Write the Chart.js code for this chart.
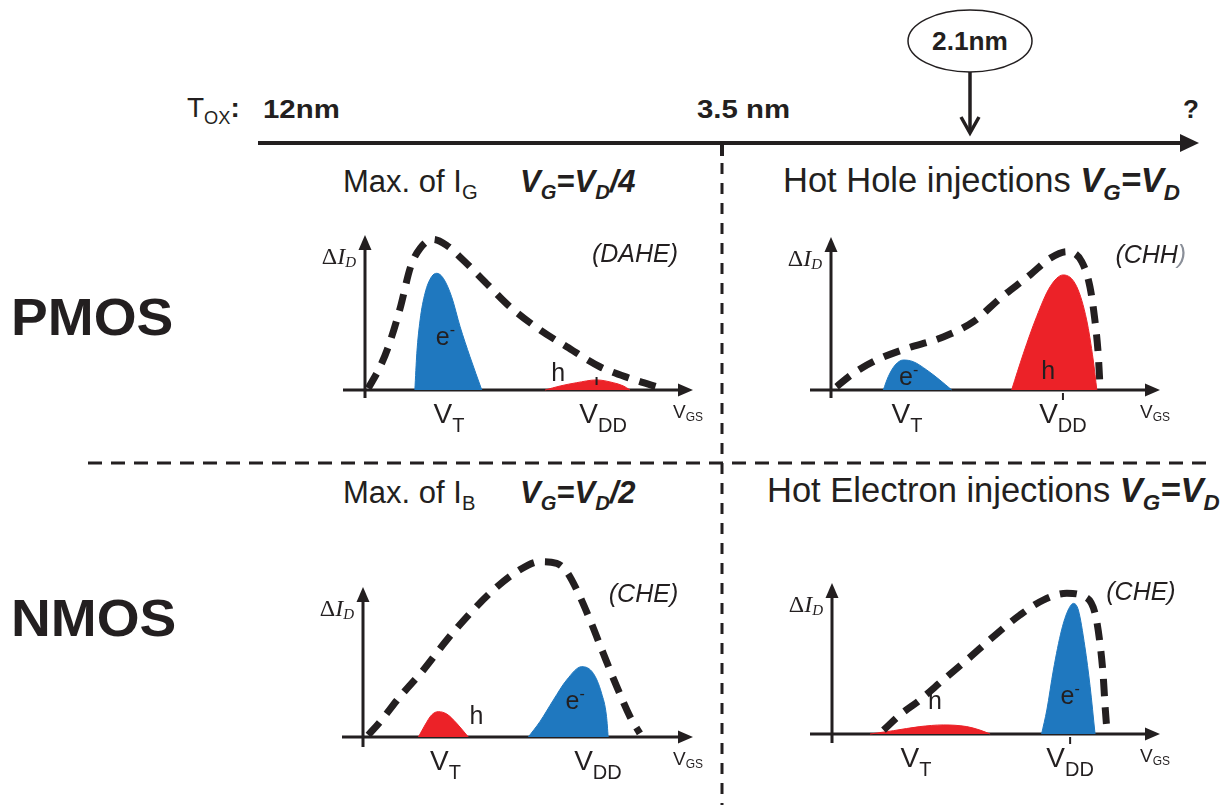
<!DOCTYPE html>
<html>
<head>
<meta charset="utf-8">
<script src="https://cdn.jsdelivr.net/npm/chart.js@4.4.1/dist/chart.umd.min.js"></script>
<style>
  body { margin: 0; background: #fff; }
  #page { position: relative; width: 1225px; height: 805px; overflow: hidden; background: #fff; }
  .t { position: absolute; white-space: nowrap; line-height: 1; font-family: 'Liberation Sans', Arial, sans-serif; color: #231f20; }
  .sub { font-size: 0.65em; vertical-align: -0.36em; line-height: 1; }
  .bi { font-weight: bold; font-style: italic; }
  .b { font-weight: bold; }
  canvas { position: absolute; }
  svg { position: absolute; left: 0; top: 0; }
</style>
</head>
<body>
<div id="page">
  <svg width="1225" height="805">
    <g stroke="#231f20" fill="none">
      <line x1="258" y1="143" x2="1184" y2="143" stroke-width="4"/>
      <line x1="722" y1="141" x2="722" y2="156" stroke-width="4"/>
      <ellipse cx="970" cy="41" rx="62" ry="31" stroke-width="1.5"/>
      <line x1="970" y1="72" x2="970" y2="132" stroke-width="3.5"/>
      <polyline points="961,117 970,133 979,117" stroke-width="3.5"/>
      <line x1="722" y1="163" x2="722" y2="805" stroke-width="3" stroke-dasharray="11 9"/>
      <line x1="88" y1="463" x2="1212" y2="463" stroke-width="3" stroke-dasharray="14 9"/>
    </g>
    <polygon points="1199,143 1180,134 1180,152" fill="#231f20"/>
  </svg>

  <div class="t" style="left:187px;top:94px;font-size:28px">T<span class="sub">OX</span><b>:</b></div>
  <div class="t b" style="left:263px;top:96px;font-size:26px;transform:scaleX(1.13);transform-origin:left">12nm</div>
  <div class="t b" style="left:697px;top:96px;font-size:26px;transform:scaleX(1.13);transform-origin:left">3.5 nm</div>
  <div class="t b" style="left:1183px;top:96px;font-size:26px">?</div>
  <div class="t b" style="left:970px;top:29px;font-size:25px;transform:translateX(-50%) scaleX(1.05)">2.1nm</div>

  <div class="t b" style="left:11px;top:291px;font-size:52px;transform:scaleX(1.06);transform-origin:left">PMOS</div>
  <div class="t b" style="left:11px;top:592px;font-size:52px;transform:scaleX(1.06);transform-origin:left">NMOS</div>

  <div class="t" style="left:343px;top:166px;font-size:31px">Max. of I<span class="sub">G</span></div>
  <div class="t bi" style="left:520px;top:166px;font-size:31px">V<span class="sub">G</span>=V<span class="sub">D</span>/4</div>
  <div class="t" style="left:783px;top:163px;font-size:34.5px">Hot Hole injections <span class="bi">V<span class="sub">G</span>=V<span class="sub">D</span></span></div>
  <div class="t" style="left:343px;top:477px;font-size:31px">Max. of I<span class="sub">B</span></div>
  <div class="t bi" style="left:520px;top:477px;font-size:31px">V<span class="sub">G</span>=V<span class="sub">D</span>/2</div>
  <div class="t" style="left:767px;top:473px;font-size:34.5px">Hot Electron injections <span class="bi">V<span class="sub">G</span>=V<span class="sub">D</span></span></div>
</div>

<script>
// curves in axis units: V_GS axis runs 0..10 to the arrow tip, ΔI_D axis 0..10 to the arrow tip
const p1Envelope = [[0.10,0.11],[0.46,1.5],[0.71,2.79],[1.07,5.27],[1.39,7.95],[1.68,9.14],[2.08,9.72],[2.48,9.35],[2.99,8.39],[3.70,6.88],[4.42,5.37],[5.34,3.87],[6.15,2.79],[7.16,1.5],[8.08,0.75],[9.05,0.11]];
const p1Blue = [[1.52,0],[1.58,2.37],[1.68,4.52],[1.83,6.24],[2.03,7.31],[2.19,7.53],[2.39,7.20],[2.64,6.02],[2.90,4.08],[3.20,2.15],[3.56,0]];
const p1Red = [[5.49,0],[5.95,0.26],[6.45,0.47],[7.06,0.65],[7.57,0.47],[7.88,0.26],[8.08,0]];

const p2Envelope = [[0.17,0.22],[0.68,1.09],[1.39,1.96],[2.30,2.72],[3.31,3.38],[4.33,4.47],[5.14,5.99],[6.05,7.52],[6.66,8.61],[7.16,9.04],[7.62,8.39],[7.87,6.75],[8.02,4.58],[8.12,2.40],[8.18,0.11]];
const p2Blue = [[1.59,0],[1.74,0.87],[1.95,1.63],[2.20,1.96],[2.50,1.85],[2.91,1.31],[3.31,0.65],[3.67,0]];
const p2Red = [[5.49,0],[5.85,2.40],[6.25,4.79],[6.66,6.75],[7.06,7.52],[7.47,6.75],[7.77,4.58],[7.97,1.96],[8.08,0]];

const p3Envelope = [[0.16,0.13],[0.52,1.02],[1.12,2.69],[1.83,4.47],[2.54,6.47],[3.34,8.47],[3.95,9.8],[4.66,11.02],[5.36,11.69],[5.87,11.58],[6.17,11.02],[6.48,9.8],[6.88,7.8],[7.28,5.58],[7.69,3.36],[8.09,1.36],[8.39,0.24]];
const p3Red = [[1.68,0],[1.88,0.8],[2.08,1.47],[2.28,1.69],[2.54,1.53],[2.84,0.91],[3.19,0]];
const p3Blue = [[5.01,0],[5.36,1.02],[5.77,2.47],[6.17,3.8],[6.63,4.69],[6.98,4.24],[7.23,2.91],[7.38,1.36],[7.43,0]];

const p4Envelope = [[1.57,0.26],[2.07,1.26],[2.68,2.25],[3.39,3.58],[4.11,4.90],[4.92,6.45],[5.73,7.88],[6.44,8.87],[7.16,9.32],[7.71,9.09],[8.02,7.99],[8.17,6.0],[8.27,3.8],[8.32,2.03],[8.38,0.26]];
const p4Red = [[1.16,0],[1.87,0.22],[2.68,0.49],[3.39,0.6],[4.11,0.49],[4.51,0.26],[4.82,0]];
const p4Blue = [[6.39,0],[6.55,1.59],[6.75,4.24],[7.0,6.89],[7.2,8.21],[7.36,8.65],[7.51,8.21],[7.71,5.78],[7.87,3.13],[8.02,0]];

// tick labels on the V_GS axis
const vtPositions = [2.56, 2.31, 2.5, 2.56];
const vddPositions = [7.26, 7.05, 7.12, 7.26];
const mechanisms = ['(DAHE)', '(CHH', '(CHE)', '(CHE)'];
const mechPositions = [[8.23,8.26],[9.72,8.3],[8.5,9.0],[9.42,8.87]];
const electronLabels = [[2.39,3.34],[2.30,0.76],[6.37,2.35],[7.20,2.47]];
const holeLabels = [[5.89,1.18],[6.60,1.31],[3.44,1.47],[3.14,2.25]];

// where each small plot sits on the page (pixels)
const boxes = [
  {left:290, top:205, width:435, height:245, ox:365, oy:390, xTip:693, yTip:235, xStart:343, yEnd:398, tick:-1},
  {left:755, top:205, width:450, height:245, ox:831, oy:390, xTip:1160, yTip:237, xStart:810, yEnd:398, tick:1},
  {left:290, top:535, width:435, height:260, ox:363, oy:737, xTip:693, yTip:587, xStart:342, yEnd:747, tick:0},
  {left:755, top:555, width:450, height:240, ox:832, oy:734, xTip:1160, yTip:583, xStart:810, yEnd:743, tick:1}
];

const BLUE = '#1f78bf', RED = '#ec2228', INK = '#231f20';
const SANS = "'Liberation Sans', Arial, sans-serif";
const SERIF = "'Liberation Serif', 'Times New Roman', serif";

function drawParts(ctx, parts, x, base, align) {
  let w = 0;
  parts.forEach(p => { ctx.font = p.font; w += ctx.measureText(p.t).width; });
  let cx = align === 'center' ? x - w / 2 : align === 'right' ? x - w : x;
  ctx.textAlign = 'left';
  ctx.textBaseline = 'alphabetic';
  parts.forEach(p => {
    ctx.font = p.font;
    ctx.fillStyle = p.color || INK;
    ctx.fillText(p.t, cx, base + (p.dy || 0));
    cx += ctx.measureText(p.t).width;
  });
}

const decor = {
  id: 'decor',
  beforeDatasetsDraw(chart, args, o) {
    const {ctx, scales: {x, y}} = chart;
    const X = v => x.getPixelForValue(v), Y = v => y.getPixelForValue(v);
    ctx.save();
    ctx.strokeStyle = INK; ctx.fillStyle = INK; ctx.lineWidth = 3;
    ctx.beginPath();
    ctx.moveTo(X(o.xFrom), Y(0)); ctx.lineTo(X(10) - 8, Y(0));
    ctx.moveTo(X(0), Y(o.yFrom)); ctx.lineTo(X(0), Y(10) + 8);
    ctx.stroke();
    ctx.beginPath();
    ctx.moveTo(X(10), Y(0)); ctx.lineTo(X(10) - 15, Y(0) - 6.5); ctx.lineTo(X(10) - 15, Y(0) + 6.5);
    ctx.closePath(); ctx.fill();
    ctx.beginPath();
    ctx.moveTo(X(0), Y(10)); ctx.lineTo(X(0) - 6.5, Y(10) + 15); ctx.lineTo(X(0) + 6.5, Y(10) + 15);
    ctx.closePath(); ctx.fill();
    ctx.restore();
  },
  afterDatasetsDraw(chart, args, o) {
    const {ctx, scales: {x, y}} = chart;
    const X = v => x.getPixelForValue(v), Y = v => y.getPixelForValue(v);
    const i = o.index;
    ctx.save();
    const y0 = Y(0);
    // small tick at V_DD
    if (o.tick) {
      ctx.strokeStyle = INK; ctx.lineWidth = 2;
      ctx.beginPath();
      if (o.tick > 0) { ctx.moveTo(X(vddPositions[i]), y0 + 3); ctx.lineTo(X(vddPositions[i]), y0 + 10); }
      else { ctx.moveTo(X(vddPositions[i] - 0.2), y0 - 13); ctx.lineTo(X(vddPositions[i] - 0.2), y0 - 5); }
      ctx.stroke();
    }
    drawParts(ctx, [{t:'V', font:'28px ' + SANS}, {t:'T', font:'20px ' + SANS, dy:9}], X(vtPositions[i]), y0 + 33, 'center');
    drawParts(ctx, [{t:'V', font:'28px ' + SANS}, {t:'DD', font:'20px ' + SANS, dy:9}], X(vddPositions[i]), y0 + 33, 'center');
    drawParts(ctx, [{t:'V', font:'19px ' + SANS}, {t:'GS', font:'12px ' + SANS, dy:3}], X(10) - 20, y0 + 28, 'left');
    drawParts(ctx, [{t:'Δ', font:'24px ' + SERIF}, {t:'I', font:'italic 24px ' + SERIF}, {t:'D', font:'italic 15px ' + SERIF, dy:3}], X(0) - 9, Y(10) + 29, 'right');
    const mech = [{t:mechanisms[i], font:'italic 25px ' + SANS}];
    if (i === 1) mech.push({t:')', font:'italic 25px ' + SANS, color:'#8a8f99'});
    drawParts(ctx, mech, X(mechPositions[i][0]), Y(mechPositions[i][1]), 'center');
    const e = electronLabels[i], h = holeLabels[i];
    drawParts(ctx, [{t:'e', font:'25px ' + SANS}, {t:'-', font:'16px ' + SANS, dy:-10}], X(e[0]) + 2, Y(e[1]) + 7, 'center');
    drawParts(ctx, [{t:'h', font:'25px ' + SANS}], X(h[0]), Y(h[1]) + 9, 'center');
    ctx.restore();
  }
};

const panels = [
  {env:p1Envelope, blue:p1Blue, red:p1Red},
  {env:p2Envelope, blue:p2Blue, red:p2Red},
  {env:p3Envelope, blue:p3Blue, red:p3Red},
  {env:p4Envelope, blue:p4Blue, red:p4Red}
];

const toXY = arr => arr.map(([x, y]) => ({x, y}));

panels.forEach((p, i) => {
  const b = boxes[i];
  const kx = (b.xTip - b.ox) / 10, ky = (b.oy - b.yTip) / 10;
  const cv = document.createElement('canvas');
  cv.width = b.width; cv.height = b.height;
  cv.style.left = b.left + 'px'; cv.style.top = b.top + 'px';
  cv.style.width = b.width + 'px'; cv.style.height = b.height + 'px';
  document.getElementById('page').appendChild(cv);

  new Chart(cv.getContext('2d'), {
    type: 'line',
    data: {
      datasets: [
        {data: toXY(p.env), borderColor: INK, borderWidth: 7, borderDash: [17, 11], fill: false,
         pointRadius: 0, cubicInterpolationMode: 'monotone'},
        {data: toXY(p.blue), borderColor: BLUE, backgroundColor: BLUE, borderWidth: 1, fill: 'origin',
         pointRadius: 0, cubicInterpolationMode: 'monotone'},
        {data: toXY(p.red), borderColor: RED, backgroundColor: RED, borderWidth: 1, fill: 'origin',
         pointRadius: 0, cubicInterpolationMode: 'monotone'}
      ]
    },
    options: {
      responsive: false,
      animation: false,
      devicePixelRatio: 1,
      events: [],
      layout: {padding: 0},
      scales: {
        x: {type: 'linear', display: false, min: (b.left - b.ox) / kx, max: (b.left + b.width - b.ox) / kx},
        y: {type: 'linear', display: false, min: (b.oy - b.top - b.height) / ky, max: (b.oy - b.top) / ky}
      },
      plugins: {
        legend: {display: false},
        tooltip: {enabled: false},
        decor: {index: i, tick: b.tick, xFrom: (b.xStart - b.ox) / kx, yFrom: (b.oy - b.yEnd) / ky}
      }
    },
    plugins: [decor]
  });
});
</script>
</body>
</html>
